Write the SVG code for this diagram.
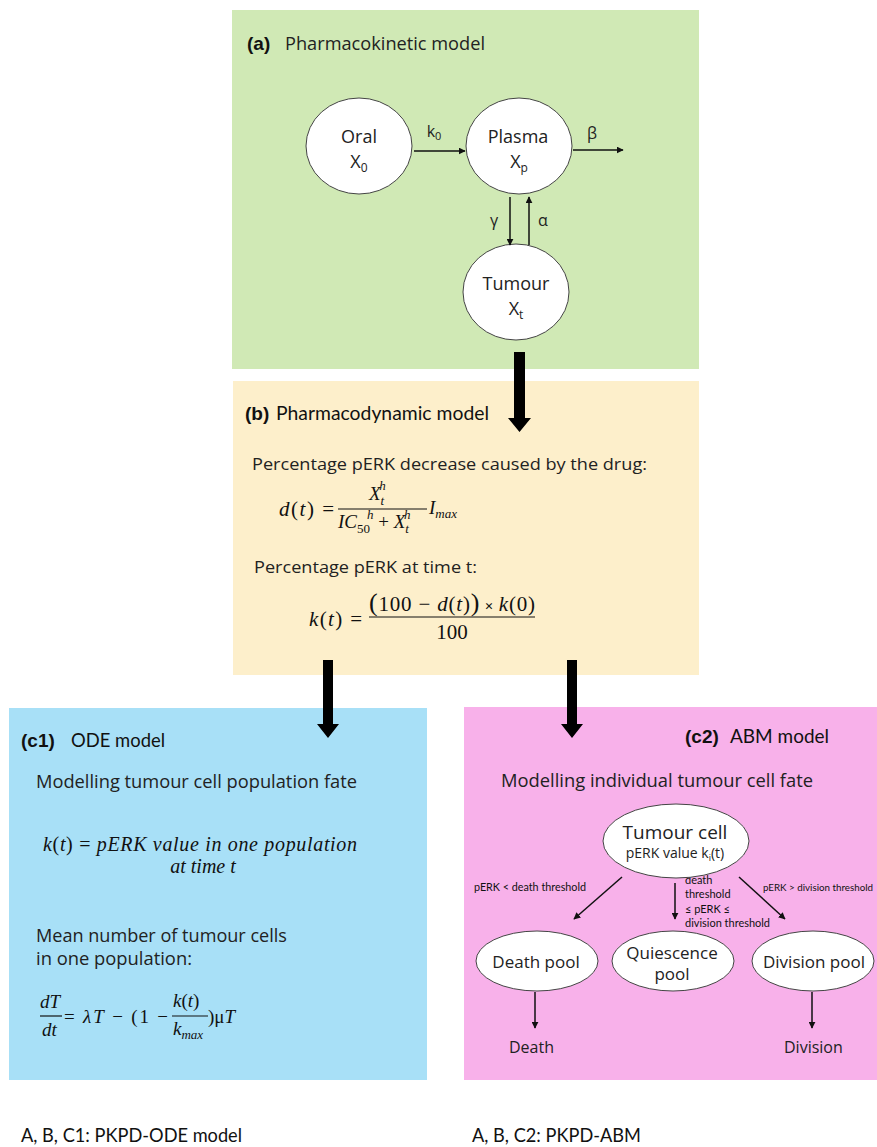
<svg xmlns="http://www.w3.org/2000/svg" width="877" height="1147" viewBox="0 0 877 1147">
<style>
.s{font-family:"Open Sans","Liberation Sans",sans-serif;fill:#222}
.c{font-family:Lato,"Liberation Sans",sans-serif;fill:#111}
.b{font-family:"Liberation Sans",Arial,sans-serif;font-weight:bold;fill:#111}
.m{font-family:"Liberation Serif","Times New Roman",serif;font-style:italic;fill:#111}
.n{font-family:"Liberation Serif","Times New Roman",serif;font-style:normal;fill:#111}
.node{fill:#fff;stroke:#444;stroke-width:1}
.ln{stroke:#111;stroke-width:1.5;fill:none}
.fb{stroke:#111;stroke-width:1.2}
</style>
<defs>
<marker id="ah" viewBox="0 0 10 10" refX="9" refY="5" markerWidth="7" markerHeight="7" markerUnits="userSpaceOnUse" orient="auto">
<path d="M0,0 L10,5 L0,10 z" fill="#111"/>
</marker>
</defs>
<rect width="877" height="1147" fill="#fff"/>

<g id="panel-a">
<rect x="232" y="10" width="467" height="359" fill="#d0e9b5"/>
<text x="247" y="50" class="b" font-size="19">(a)</text>
<text x="285" y="50" class="s" font-size="18" textLength="200" lengthAdjust="spacingAndGlyphs">Pharmacokinetic model</text>
</g>
<g id="node-oral">
<ellipse cx="359" cy="146" rx="53" ry="48" class="node"/>
<text x="359" y="143" class="s" font-size="18" text-anchor="middle">Oral</text>
<text x="359" y="168" class="s" font-size="18" text-anchor="middle">X<tspan font-size="12" dy="4">0</tspan></text>
</g>
<g id="node-plasma">
<ellipse cx="519" cy="146" rx="53" ry="48" class="node"/>
<text x="518" y="143" class="s" font-size="18" text-anchor="middle">Plasma</text>
<text x="519" y="168" class="s" font-size="18" text-anchor="middle">X<tspan font-size="12" dy="4">p</tspan></text>
</g>
<g id="node-tumour">
<ellipse cx="516" cy="292" rx="53" ry="48" class="node"/>
<text x="516" y="290" class="s" font-size="18" text-anchor="middle">Tumour</text>
<text x="516" y="315" class="s" font-size="18" text-anchor="middle">X<tspan font-size="12" dy="4">t</tspan></text>
</g>

<g id="panel-b">
<rect x="233" y="381" width="466" height="294" fill="#fdefcb"/>
<text x="245" y="420" class="b" font-size="19">(b)</text>
<text x="276" y="420" class="c" font-size="19" textLength="213" lengthAdjust="spacingAndGlyphs">Pharmacodynamic model</text>
<text x="252" y="470" class="s" font-size="17" textLength="395" lengthAdjust="spacingAndGlyphs">Percentage pERK decrease caused by the drug:</text>
<text x="279" y="516" class="m" font-size="21" textLength="55" lengthAdjust="spacing">d<tspan class="n">(</tspan>t<tspan class="n">) =</tspan></text>
<text x="369" y="500" class="m" font-size="19">X<tspan font-size="13" dy="5">t</tspan><tspan font-size="13" dx="-5" dy="-15">h</tspan></text>
<line x1="338" y1="509" x2="427" y2="509" class="fb"/>
<text x="338" y="528" class="m" font-size="19">IC<tspan class="n" font-size="13" dy="5">50</tspan><tspan font-size="13" dx="-3" dy="-14">h</tspan><tspan class="n" dy="9"> + </tspan>X<tspan font-size="13" dy="5">t</tspan><tspan font-size="13" dx="-5" dy="-14">h</tspan></text>
<text x="429" y="514" class="m" font-size="19">I<tspan font-size="13" dy="4">max</tspan></text>
<text x="254" y="573" class="s" font-size="17" textLength="223" lengthAdjust="spacingAndGlyphs">Percentage pERK at time t:</text>
<text x="309" y="626" class="m" font-size="21" textLength="53" lengthAdjust="spacing">k<tspan class="n">(</tspan>t<tspan class="n">) =</tspan></text>
<text x="369" y="611" class="m" font-size="21" textLength="166" lengthAdjust="spacing"><tspan class="n" font-size="26">(</tspan><tspan class="n">100 − </tspan>d<tspan class="n">(</tspan>t<tspan class="n">)</tspan><tspan class="n" font-size="26">)</tspan><tspan class="n" font-weight="bold" font-size="15"> × </tspan>k<tspan class="n">(0)</tspan></text>
<line x1="369" y1="617" x2="535" y2="617" class="fb"/>
<text x="452" y="639" class="n" font-size="21" text-anchor="middle">100</text>
</g>

<g id="panel-c1">
<rect x="9" y="708" width="418" height="372" fill="#a8e0f7"/>
<text x="21" y="747" class="b" font-size="19">(c1)</text>
<text x="71" y="747" class="c" font-size="19" textLength="94" lengthAdjust="spacingAndGlyphs">ODE model</text>
<text x="36" y="788" class="s" font-size="18" textLength="321" lengthAdjust="spacingAndGlyphs">Modelling tumour cell population fate</text>
<text x="43" y="851" class="m" font-size="20" textLength="314" lengthAdjust="spacing">k<tspan class="n">(</tspan>t<tspan class="n">) = </tspan>pERK value in one population</text>
<text x="203" y="873" class="m" font-size="20" text-anchor="middle">at time t</text>
<text x="36" y="942" class="s" font-size="18" textLength="251" lengthAdjust="spacingAndGlyphs">Mean number of tumour cells</text>
<text x="36" y="965" class="s" font-size="18" textLength="156" lengthAdjust="spacingAndGlyphs">in one population:</text>
<text x="40" y="1008" class="m" font-size="19">dT</text>
<line x1="40" y1="1016" x2="62" y2="1016" class="fb"/>
<text x="42" y="1036" class="m" font-size="19">dt</text>
<text x="64" y="1023" class="n" font-size="19" textLength="104" lengthAdjust="spacing">= <tspan class="m">λT</tspan> − (1 −</text>
<text x="173" y="1007" class="m" font-size="19">k<tspan class="n">(</tspan>t<tspan class="n">)</tspan></text>
<line x1="172" y1="1016" x2="208" y2="1016" class="fb"/>
<text x="173" y="1035" class="m" font-size="19">k<tspan font-size="13" dy="4">max</tspan></text>
<text x="208" y="1023" class="n" font-size="19">)μ<tspan class="m">T</tspan></text>
</g>

<g id="panel-c2">
<rect x="464" y="707" width="413" height="373" fill="#f8b1ea"/>
<text x="685" y="743" class="b" font-size="19">(c2)</text>
<text x="730" y="743" class="c" font-size="19" textLength="99" lengthAdjust="spacingAndGlyphs">ABM model</text>
<text x="501" y="787" class="s" font-size="18" textLength="312" lengthAdjust="spacingAndGlyphs">Modelling individual tumour cell fate</text>
<text x="474" y="891" class="c" font-size="11" textLength="112" lengthAdjust="spacingAndGlyphs">pERK &lt; death threshold</text>
<text x="685" y="884" class="c" font-size="11">death</text>
<text x="685" y="898" class="c" font-size="11">threshold</text>
<text x="685" y="913" class="c" font-size="11">≤ pERK ≤</text>
<text x="685" y="927" class="c" font-size="11" textLength="85" lengthAdjust="spacingAndGlyphs">division threshold</text>
<text x="763" y="891" class="c" font-size="9.5" textLength="110" lengthAdjust="spacingAndGlyphs">pERK &gt; division threshold</text>
<text x="509" y="1053" class="s" font-size="16">Death</text>
<text x="784" y="1053" class="s" font-size="16">Division</text>
</g>
<g id="node-tumour-cell">
<ellipse cx="676" cy="841" rx="73" ry="37" class="node"/>
<text x="675" y="839" class="s" font-size="19" text-anchor="middle">Tumour cell</text>
<text x="675" y="858" class="s" font-size="14" text-anchor="middle">pERK value k<tspan font-size="9" dy="3">i</tspan><tspan dy="-3">(t)</tspan></text>
</g>
<g id="node-death-pool">
<ellipse cx="537" cy="961" rx="61" ry="30" class="node"/>
<text x="536" y="968" class="s" font-size="17" text-anchor="middle">Death pool</text>
</g>
<g id="node-quiescence-pool">
<ellipse cx="673" cy="961" rx="61" ry="30" class="node"/>
<text x="672" y="959" class="s" font-size="17" text-anchor="middle">Quiescence</text>
<text x="672" y="980" class="s" font-size="17" text-anchor="middle">pool</text>
</g>
<g id="node-division-pool">
<ellipse cx="813" cy="961" rx="61" ry="30" class="node"/>
<text x="814" y="968" class="s" font-size="17" text-anchor="middle">Division pool</text>
</g>

<g id="footer">
<text x="21" y="1142" class="c" font-size="19" textLength="221" lengthAdjust="spacingAndGlyphs">A, B, C1: PKPD-ODE model</text>
<text x="472" y="1142" class="c" font-size="19" textLength="169" lengthAdjust="spacingAndGlyphs">A, B, C2: PKPD-ABM</text>
</g>

<g id="connectors">
<line x1="414" y1="151" x2="465" y2="151" class="ln" marker-end="url(#ah)"/>
<line x1="573" y1="150" x2="623" y2="150" class="ln" marker-end="url(#ah)"/>
<line x1="510" y1="197" x2="510" y2="245" class="ln" marker-end="url(#ah)"/>
<line x1="529" y1="245" x2="529" y2="197" class="ln" marker-end="url(#ah)"/>
<text x="434" y="137" class="s" font-size="16" text-anchor="middle">k<tspan font-size="11" dy="3">0</tspan></text>
<text x="592" y="139" class="s" font-size="16" text-anchor="middle">β</text>
<text x="494" y="226" class="s" font-size="16" text-anchor="middle">γ</text>
<text x="543" y="226" class="s" font-size="16" text-anchor="middle">α</text>
<path d="M514,352 h11 v66 h6 l-11.5,14 l-11.5,-14 h6 z" fill="#000"/>
<path d="M323,660 h10 v64 h6 l-11,14 l-11,-14 h6 z" fill="#000"/>
<path d="M567,660 h10 v64 h6 l-11,14 l-11,-14 h6 z" fill="#000"/>
<line x1="622" y1="877" x2="574" y2="919" class="ln" marker-end="url(#ah)"/>
<line x1="675" y1="883" x2="675" y2="919" class="ln" marker-end="url(#ah)"/>
<line x1="739" y1="877" x2="785" y2="919" class="ln" marker-end="url(#ah)"/>
<line x1="535" y1="992" x2="535" y2="1028" class="ln" marker-end="url(#ah)"/>
<line x1="812" y1="992" x2="812" y2="1028" class="ln" marker-end="url(#ah)"/>
</g>
</svg>
